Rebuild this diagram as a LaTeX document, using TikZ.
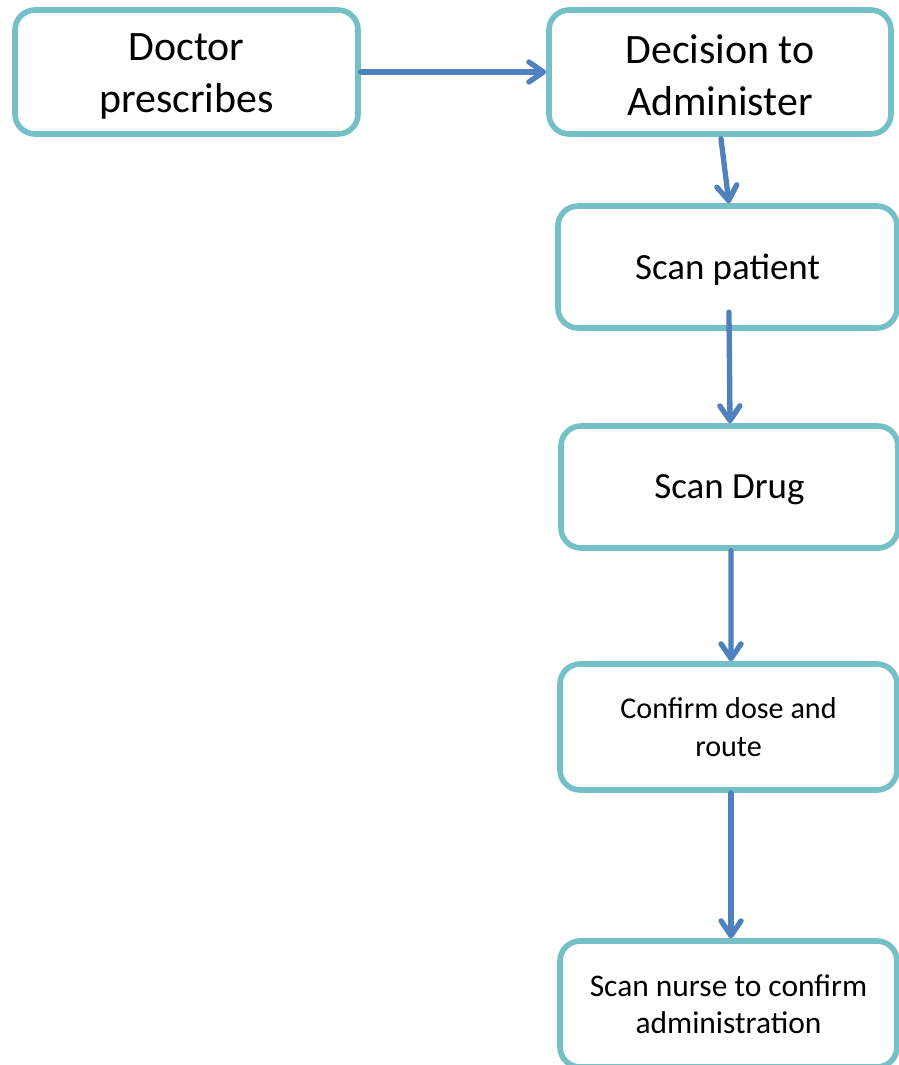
\documentclass[tikz,border=0pt]{standalone}
\usepackage{fontspec}
\setmainfont{Carlito}
\usetikzlibrary{arrows.meta}
\definecolor{boxc}{RGB}{117,192,198}
\definecolor{arrc}{RGB}{79,129,189}
\newcommand{\topstrut}{\rule{0pt}{27pt}}
\begin{document}
\begin{tikzpicture}[x=0.75pt,y=-0.75pt,
  box/.style={draw=boxc, line width=4.2pt, rounded corners=15pt, align=center, inner sep=0pt, fill=white},
  big/.style={font=\fontsize{31.4}{39}\selectfont},
  mid/.style={font=\fontsize{27.7}{33}\selectfont, text depth=0pt},
  small/.style={font=\fontsize{22.6}{29}\selectfont},
  flow/.style={draw=arrc, line width=4pt, line cap=round, -{Straight Barb[length=11pt,width=15pt,round]}}]
\useasboundingbox (0,0) rectangle (899,1065);
\node[box, big, minimum width=257.25pt, minimum height=93pt] (A) at (186.5,72) {\topstrut Doctor\\prescribes};
\node[box, big, minimum width=256.5pt, minimum height=93pt] (B) at (720,72) {\topstrut Decision to\\Administer};
\node[box, mid, minimum width=254.25pt, minimum height=91.5pt] (C) at (727.5,267) {Scan patient};
\node[box, mid, minimum width=252.75pt, minimum height=91.5pt] (D) at (729.5,487) {Scan Drug};
\node[box, small, minimum width=252.75pt, minimum height=94.5pt] (E) at (728.5,727) {Confirm dose and\\route};
\node[box, font=\fontsize{23.6}{28}\selectfont, minimum width=252.75pt, minimum height=94.5pt] (F) at (728.5,1004) {Scan nurse to confirm\\administration};
\draw[flow] (A.east) -- (B.west);
\draw[flow] ([xshift=0.75pt,yshift=-1.5pt]B.south) -- ([xshift=1.1pt]C.north);
\draw[flow] ([xshift=1.1pt,yshift=14pt]C.south) -- ([xshift=0.4pt]D.north);
\draw[flow] ([xshift=1.1pt]D.south) -- ([xshift=1.9pt]E.north);
\draw[flow] ([xshift=1.9pt]E.south) -- ([xshift=1.9pt]F.north);
\end{tikzpicture}
\end{document}
